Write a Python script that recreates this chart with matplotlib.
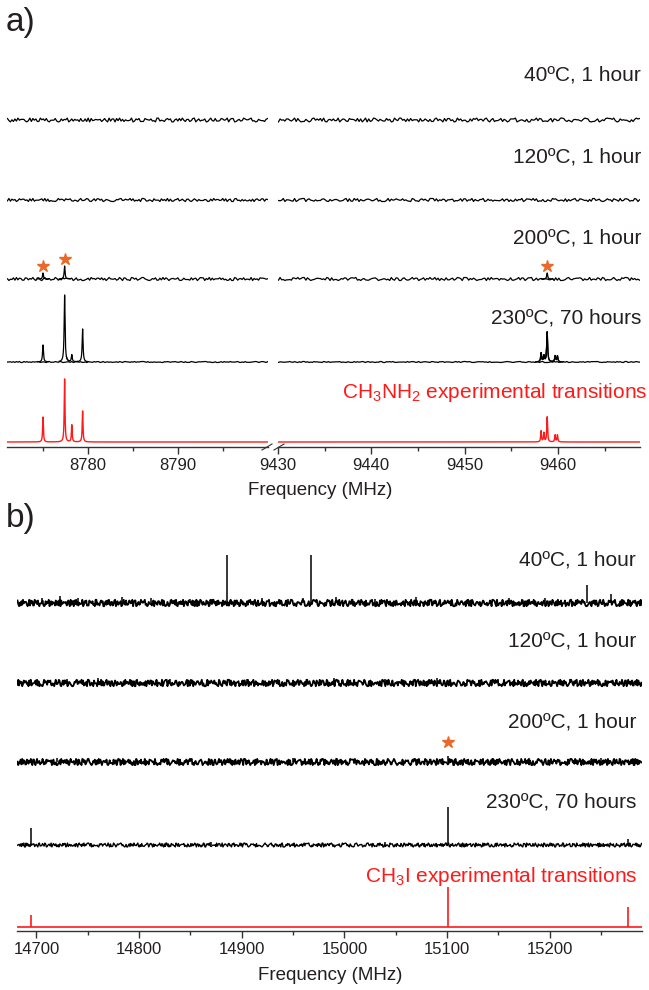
import numpy as np
import matplotlib
matplotlib.use("Agg")
import matplotlib.pyplot as plt

plt.rcParams['font.family'] = ['Liberation Sans', 'DejaVu Sans']

W, H = 649, 990

# ---------------- data, panel a (CH3NH2) ----------------
a_left_lim = (8771.0, 8800.0)
a_right_lim = (9430.0, 9468.8)
a_labels = ['40ºC, 1 hour', '120ºC, 1 hour', '200ºC, 1 hour', '230ºC, 70 hours']

ch3nh2_freq = [8775.0, 8777.4, 8778.2, 8779.4, 9458.2, 9458.5, 9458.85, 9459.7, 9459.95]
ch3nh2_int = [25, 63, 17, 31, 11, 9, 25, 7, 7]
a230_freq = [8775.0, 8777.4, 8778.2, 8779.4, 9458.2, 9458.5, 9458.85, 9459.7, 9459.95]
a230_int = [17, 67, 7, 33, 9, 6, 30, 6, 6]
a200_freq = [8775.0, 8777.4, 9458.85]
a200_int = [6, 13, 6]
a200_star = [8775.0, 8777.4, 9458.85]
a_noise_amp = [1.9, 1.5, 1.5, 0.5]

# ---------------- data, panel b (CH3I) ----------------
b_lim = (14681.0, 15290.0)
b_labels = ['40ºC, 1 hour', '120ºC, 1 hour', '200ºC, 1 hour', '230ºC, 70 hours']

b40_freq = [14705, 14723, 14740, 14783, 14812, 14850, 14871, 14885.4, 14920, 14945,
            14960, 14967.3, 14992, 15030, 15070, 15120, 15160, 15195, 15236, 15260]
b40_int = [5, 7, 5, 6, 5, 4, 4, 48, 5, 4, 5, 48, 6, 4, 6, 4, 5, 5, 18, 9]
b120_freq = [14730, 14760, 14830, 14905, 14990, 15040, 15090, 15150, 15220]
b120_int = [4, 5, 4, 4, 5, 4, 5, 4, 4]
b200_freq = [14720, 14850, 14950, 15101, 15180, 15250]
b200_int = [4, 4, 4, 6, 4, 4]
b200_star = [15101]
b230_freq = [14695, 14870, 15040, 15100.5, 15276]
b230_int = [17, 3, 3, 38, 6]
ch3i_freq = [14695, 15100.5, 15276.4]
ch3i_int = [12, 40, 20]
b_noise_amp = [3.2, 3.2, 3.1, 1.9]

# baseline noise of each recorded trace, as digit levels 0..9
noise = [
    "8305172946662039184711957382044482017365903726451822719083465561483092770839"
    "2615334902758111865472309924316857005728394166138904724470159328223874590688"
    "0146239755792301643316807452774259183011630289474829105637339047621866528170"
    "4907139852642284601953994617283555082374161179364082883501947244017286936627"
    "9305813358164027779024531600645938712215807634998314205655326987101147025389"
    "88693017454420516978",
    "2917460385773508291444682917031103957628668214305933597104828847026531002658"
    "9347559381426099712530844408362917115692473077204851633365017294663492805700"
    "8934162522517068438817632490554219037899068431523378510624664123790811948063"
    "2577523691400039174586448352109722068473199928153760556703248188154906326690"
    "2735143324816705117265903877493802160053197842441806257922875340619935720148"
    "55086419238861329705",
    "5043819276118726493088205934613396142857665703812400247195637738260495446139"
    "5087220984713699531026481172938504664581027333182670498806391725558372401600"
    "9715638244290635187764519230223187594699184023576635297081330264871588791304"
    "6211467850235524093187006831259477035816494492706318225714986099816374023367"
    "0829456616453028113592870488902715635542360817001379425677860523914428619703"
    "22594031869970836241",
    "4562718390093825174677146308923385297014662904853711507632848803914625224618"
    "5079551739264899628041533341075862668523940711296403757798352016004718362944"
    "3692051822135697048850716432559428307199270418563309628145666814207311827359"
    "6077163042980075849213444519268722903675418834076915552149380699586102376673"
    "5081243310247965115689340277251460890002638571447390165222647159388889320417"
    "55361847209904725863",
]

TEXT = '#231f20'
RED = '#ff1a1a'
STAR = '#e8692a'


def fx(x):
    return x / W


def fy(y):
    return 1 - y / H


def levels(s, amp):
    d = np.array([int(c) for c in s], dtype=float)
    return (d - 4.5) / 4.5 * amp


def lorentz(x, freqs, ints, hw):
    y = np.zeros_like(x)
    for f, h in zip(freqs, ints):
        y += h / (1 + ((x - f) / hw) ** 2)
    return y


def style_axis(ax, lim, major, minor):
    ax.set_xlim(*lim)
    for s in ['left', 'right', 'top']:
        ax.spines[s].set_visible(False)
    ax.spines['bottom'].set_color('#333333')
    ax.spines['bottom'].set_linewidth(1.0)
    ax.set_yticks([])
    ax.set_xticks(major)
    ax.set_xticks(minor, minor=True)
    ax.tick_params(axis='x', which='major', direction='out', length=5, width=1,
                   color='#333333', labelsize=12, labelcolor=TEXT, pad=3)
    ax.tick_params(axis='x', which='minor', direction='out', length=3, width=1, color='#333333')
    ax.patch.set_alpha(0)


def peak_segments(ax, freqs, ints, base, hw, color, lw):
    for f in freqs:
        xs = np.linspace(f - 0.6, f + 0.6, 400)
        ax.plot(xs, base + lorentz(xs, freqs, ints, hw), color=color, lw=lw)


fig = plt.figure(figsize=(W / 100, H / 100), dpi=100)

# ---------------- panel a ----------------
a_spine, a_top = 447, 60
a_offsets = [447 - 120, 447 - 200, 447 - 279, 447 - 362]
ax_l = fig.add_axes([fx(7), fy(a_spine), fx(268 - 7), (a_spine - a_top) / H])
ax_r = fig.add_axes([fx(278), fy(a_spine), fx(640 - 278), (a_spine - a_top) / H])
for ax in (ax_l, ax_r):
    ax.set_ylim(0, a_spine - a_top)
style_axis(ax_l, a_left_lim, [8780, 8790], [8775, 8785, 8795])
style_axis(ax_r, a_right_lim, [9430, 9440, 9450, 9460], [9435, 9445, 9455, 9465])

for i, base in enumerate(a_offsets):
    segs = ((ax_l, a_left_lim, noise[i][:175]), (ax_r, a_right_lim, noise[i][175:420]))
    for ax, lim, s in segs:
        y = levels(s, a_noise_amp[i])
        x = np.linspace(lim[0] + 0.05, lim[1] - 0.05, len(y))
        ax.plot(x, base + y, color='black', lw=0.9)

# peaks on 200 and 230 traces
for ax, lim in ((ax_l, a_left_lim), (ax_r, a_right_lim)):
    sel = [k for k, f in enumerate(a230_freq) if lim[0] < f < lim[1]]
    peak_segments(ax, [a230_freq[k] for k in sel], [a230_int[k] for k in sel],
                  a_offsets[3], 0.06, 'black', 0.9)
    sel = [k for k, f in enumerate(a200_freq) if lim[0] < f < lim[1]]
    peak_segments(ax, [a200_freq[k] for k in sel], [a200_int[k] for k in sel],
                  a_offsets[2], 0.06, 'black', 0.9)
    for k in sel:
        if a200_freq[k] in a200_star:
            ax.plot(a200_freq[k], a_offsets[2] + a200_int[k] + 7, marker='*',
                    color=STAR, markersize=9, ls='none')
    # red experimental transitions
    xs = np.linspace(lim[0], lim[1], 8000)
    ax.plot(xs, 5 + lorentz(xs, ch3nh2_freq, ch3nh2_int, 0.05), color=RED, lw=1.0)

# axis break marks
for x0 in (262, 274):
    fig.add_artist(plt.Line2D([fx(x0), fx(x0 + 10)], [fy(450), fy(444)],
                              color='#333333', lw=0.8))

for lab, yc in zip(a_labels, [75, 157, 238, 318]):
    fig.text(fx(641), fy(yc), lab, ha='right', va='center', fontsize=15, color=TEXT)
fig.text(fx(647), fy(393), r'CH$\mathregular{_3}$NH$\mathregular{_2}$ experimental transitions',
         ha='right', va='center', fontsize=15, color=RED)
fig.text(fx(320), fy(490), 'Frequency (MHz)', ha='center', va='center', fontsize=13.5, color=TEXT)
fig.text(fx(6), fy(22), 'a)', ha='left', va='center', fontsize=24, color=TEXT)

# ---------------- panel b ----------------
b_spine, b_top = 931, 540
b_offsets = [931 - 603, 931 - 683, 931 - 762, 931 - 845]
axb = fig.add_axes([fx(17), fy(b_spine), fx(642 - 17), (b_spine - b_top) / H])
axb.set_ylim(0, b_spine - b_top)
style_axis(axb, b_lim, np.arange(14700, 15201, 100), np.arange(14750, 15290, 100))

b_peaks = [(b40_freq, b40_int), (b120_freq, b120_int), (b200_freq, b200_int), (b230_freq, b230_int)]
for i, base in enumerate(b_offsets):
    y = np.concatenate([levels(noise[i], b_noise_amp[i]),
                        levels(noise[(i + 1) % 4][::-1], b_noise_amp[i])])
    x = np.linspace(b_lim[0] + 0.5, b_lim[1] - 0.5, len(y))
    axb.plot(x, base + y, color='black', lw=1.3 if i < 3 else 1.0)
    fr, it = b_peaks[i]
    axb.vlines(fr, base, base + np.array(it), color='black', lw=1.1)
for f in b200_star:
    k = b200_freq.index(f)
    axb.plot(f, b_offsets[2] + b200_int[k] + 14, marker='*', color=STAR, markersize=9, ls='none')

axb.plot(b_lim, [4, 4], color=RED, lw=1.2)
axb.vlines(ch3i_freq, 4, 4 + np.array(ch3i_int), color=RED, lw=1.2)

for lab, yc in zip(b_labels, [560, 641, 722, 802]):
    fig.text(fx(636), fy(yc), lab, ha='right', va='center', fontsize=15, color=TEXT)
fig.text(fx(637), fy(877), r'CH$\mathregular{_3}$I experimental transitions',
         ha='right', va='center', fontsize=15, color=RED)
fig.text(fx(330), fy(975), 'Frequency (MHz)', ha='center', va='center', fontsize=13.5, color=TEXT)
fig.text(fx(6), fy(518), 'b)', ha='left', va='center', fontsize=24, color=TEXT)

fig.savefig('out.png', dpi=100)
